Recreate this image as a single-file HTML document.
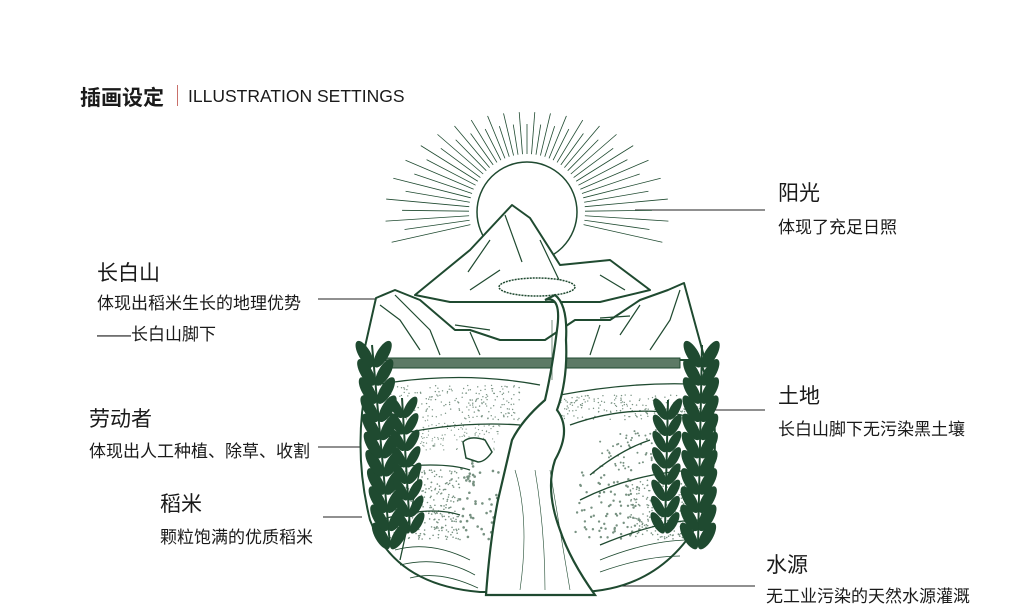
<!DOCTYPE html>
<html><head><meta charset="utf-8"><style>
html,body{margin:0;padding:0;background:#fff;}
body{width:1024px;height:608px;overflow:hidden;position:relative;font-family:"Liberation Sans","Noto Sans CJK SC",sans-serif;color:#1a1a1a;}
.t{position:absolute;white-space:nowrap;}
.h{font-size:21px;}
.s{font-size:17px;}
</style></head><body>
<div class="t" style="left:80px;top:82px;font-size:21px;font-weight:bold;">插画设定</div>
<div class="t" style="left:177px;top:85px;width:1px;height:21px;background:#c9706a;"></div>
<div class="t" style="left:188px;top:86px;font-size:17.5px;">ILLUSTRATION SETTINGS</div>

<div class="t h" style="left:778px;top:177px;">阳光</div>
<div class="t s" style="left:778px;top:213px;">体现了充足日照</div>
<div class="t h" style="left:97px;top:257px;">长白山</div>
<div class="t s" style="left:97px;top:289px;">体现出稻米生长的地理优势</div>
<div class="t s" style="left:97px;top:320px;">——长白山脚下</div>
<div class="t h" style="left:89px;top:403px;">劳动者</div>
<div class="t s" style="left:89px;top:437px;">体现出人工种植、除草、收割</div>
<div class="t h" style="left:160px;top:488px;">稻米</div>
<div class="t s" style="left:160px;top:523px;">颗粒饱满的优质稻米</div>
<div class="t h" style="left:778px;top:380px;">土地</div>
<div class="t s" style="left:778px;top:415px;">长白山脚下无污染黑土壤</div>
<div class="t h" style="left:766px;top:549px;">水源</div>
<div class="t s" style="left:766px;top:582px;">无工业污染的天然水源灌溉</div>

<svg id="art" width="1024" height="608" style="position:absolute;left:0;top:0" xmlns="http://www.w3.org/2000/svg">
<g stroke="#222" stroke-width="1">
<line x1="635" y1="210" x2="765" y2="210"/>
<line x1="318" y1="299" x2="375" y2="299"/>
<line x1="318" y1="447" x2="455" y2="447"/>
<line x1="323" y1="517" x2="362" y2="517"/>
<line x1="630" y1="410" x2="765" y2="410"/>
<line x1="560" y1="586" x2="755" y2="586"/>
</g>
<g id="rays" stroke="#1f4a30" stroke-width="0.8"></g>
<circle cx="527" cy="212" r="50" fill="#fff" stroke="#1f4a30" stroke-width="1.5"/>
<g fill="#fff" stroke="#1f4a30" stroke-width="2" stroke-linejoin="round">
<path d="M372 360 L700 360 Q730 440 700 520 Q660 590 580 592 L480 592 Q395 585 370 520 Q350 440 372 360Z"/>
<path d="M415 295 L470 250 L512 205 L530 218 L560 265 L610 260 L650 290 L600 302 L450 302Z"/>
<path d="M505 215 L522 262 M490 240 L468 272 M540 240 L560 282 M470 290 L500 270 M600 275 L625 290" fill="none" stroke-width="1.2"/>
<path d="M362 360 L376 298 L395 290 L420 300 L455 330 L470 330 L500 340 L545 340 L575 320 L610 320 L640 300 L668 290 L684 283 L705 360Z"/>
<path d="M380 305 L400 320 L420 350 M395 295 L430 330 L440 355 M680 290 L670 320 L650 350 M640 305 L620 335 M470 332 L480 355 M600 325 L590 355 M455 325 L490 330 M600 318 L630 316" fill="none" stroke-width="1.2"/>
<ellipse cx="537" cy="287" rx="38" ry="9" fill="#fff" stroke-width="1.5" stroke-dasharray="2 1"/>
<rect x="386" y="358" width="294" height="10" fill="#5d7a66" stroke-width="1"/>
<path d="M375 385 Q460 370 540 385 M560 395 Q640 380 710 385 M375 440 Q450 420 520 425 M570 425 Q640 400 700 420 M372 470 Q440 460 470 470 M580 500 Q640 470 705 470 M380 520 Q430 505 460 515 M600 545 Q660 520 700 520 M420 470 L400 560 M590 475 Q620 450 650 440" fill="none" stroke-width="1.3"/>
<path d="M395 550 Q430 540 470 560 M400 565 Q440 555 475 575 M410 578 Q440 570 478 588 M600 560 Q650 540 690 540 M600 572 Q645 556 680 556" fill="none" stroke-width="0.8"/>
</g>
<g fill="#1f4a30" opacity="0.6" id="dots"></g>
<path d="M545 300 Q562 295 557 330 Q552 370 545 400 Q522 420 512 440 Q505 470 498 500 Q490 540 486 595 L595 595 Q570 560 560 530 Q545 490 555 460 Q572 430 557 410 Q568 380 566 340 Q568 305 555 295Z" fill="#fff" stroke="#1f4a30" stroke-width="2.2"/>
<path d="M515 470 Q530 520 520 590 M535 470 Q545 530 545 590 M550 470 Q560 530 570 590 M552 320 L552 380" fill="none" stroke="#1f4a30" stroke-width="0.6"/>
<path d="M463 442 Q470 435 485 440 L492 452 Q485 462 478 462 L466 458Z" fill="#fff" stroke="#1f4a30" stroke-width="1.5"/>
<g id="wheat" fill="#1f4a30" stroke="#1f4a30"></g>
</svg>
<script>
var ns="http://www.w3.org/2000/svg";
function el(p,t,a){var e=document.createElementNS(ns,t);for(var k in a)e.setAttribute(k,a[k]);p.appendChild(e);return e;}
var r=document.getElementById('rays');
var g=document.getElementById('rays');var svg=document.getElementById('art');
for(var i=0;i<=46;i++){var a=Math.PI*(0.93+i*1.14/46);var c=Math.cos(a),s=Math.sin(a);
var L=1/Math.sqrt(c*c/(142*142)+s*s/(100*100));if(i%2)L*=0.88;
el(r,'line',{x1:527+58*c,y1:212+58*s,x2:527+L*c,y2:212+L*s});}
var d=document.getElementById('dots');
var seed=7;function rnd(){seed=(seed*16807)%2147483647;return seed/2147483647;}
function fill(x0,y0,x1,y1,n,s){for(var i=0;i<n;i++){el(d,'circle',{cx:x0+rnd()*(x1-x0),cy:y0+rnd()*(y1-y0),r:s});}}
fill(380,385,520,420,220,0.7);fill(560,395,700,420,200,0.7);fill(390,470,460,540,300,0.8);
fill(460,460,505,540,60,1.3);fill(575,470,640,540,80,1.2);fill(630,480,690,540,200,0.8);fill(420,420,500,450,120,0.6);fill(600,430,660,470,60,1.0);
var w=document.getElementById('wheat');
function stalk(x0,y0,x1,y1,n,sz){el(w,'line',{x1:x0,y1:y0,x2:x1,y2:y1,'stroke-width':2});
for(var i=0;i<n;i++){var t=i/n;var x=x0+(x1-x0)*t,y=y0+(y1-y0)*t;
[-1,1].forEach(function(s){el(w,'ellipse',{cx:x+s*sz*0.6,cy:y-sz*0.6,rx:sz*0.4,ry:sz*1.0,transform:'rotate('+(s*30)+' '+(x+s*sz*0.6)+' '+(y-sz*0.6)+')','stroke-width':0});});}}
stalk(390,545,372,345,11,15);stalk(410,530,402,398,8,12);stalk(665,530,668,400,8,12);stalk(698,545,702,345,11,15);
</script>
</body></html>
